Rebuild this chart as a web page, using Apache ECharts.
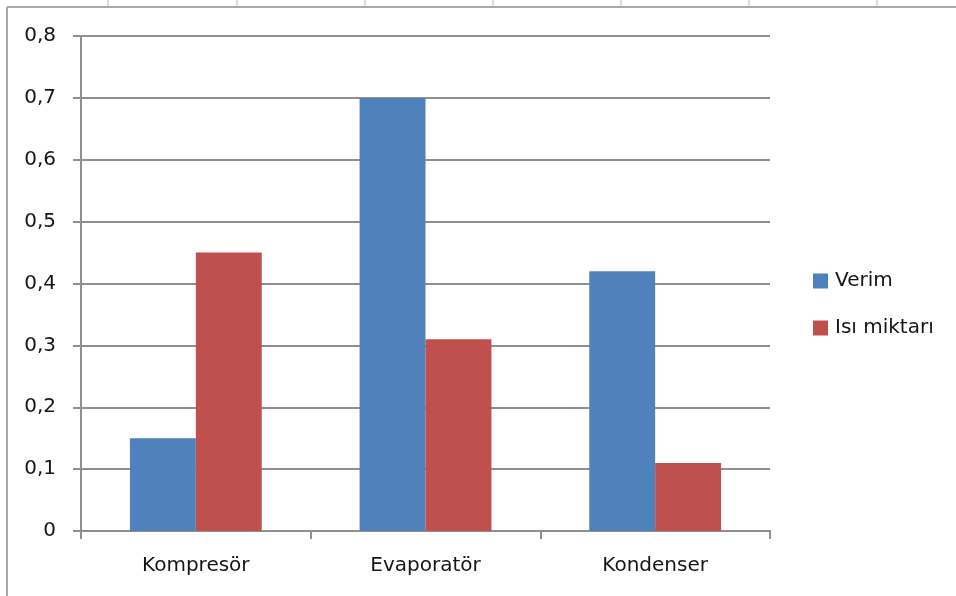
<!DOCTYPE html>
<html>
<head>
<meta charset="utf-8">
<style>
  html, body { margin: 0; padding: 0; background: #ffffff; }
  #chart { width: 956px; height: 596px; }
</style>
<script src="https://cdn.jsdelivr.net/npm/echarts@6/dist/echarts.min.js"></script>
</head>
<body>
<div id="chart"></div>
<script>
// Component names and the two measured quantities
const categories = ['Kompresör', 'Evaporatör', 'Kondenser'];
const seriesNames = ['Verim', 'Isı miktarı'];
const verim = [0.15, 0.70, 0.42];
const isiMiktari = [0.45, 0.31, 0.11];
const yTicks = { min: 0, max: 0.8, interval: 0.1 };

const FONT = 'DejaVu Sans';
const GRID_COLOR = '#8f8f8f';
const TEXT_COLOR = '#161616';

const chart = echarts.init(document.getElementById('chart'), null, { renderer: 'canvas' });

// Sheet frame around the chart area: column marks along the top edge and the outer border
const columnMarks = [108, 237, 365, 493, 621, 749, 877].map(x => ({
  type: 'line',
  shape: { x1: x, y1: 0, x2: x, y2: 6 },
  style: { stroke: '#cdd4e0', lineWidth: 1.5 },
  silent: true
}));

chart.setOption({
  backgroundColor: '#ffffff',
  animation: false,
  textStyle: { fontFamily: FONT },
  color: ['#4f81bd', '#c0504d'],
  graphic: columnMarks.concat([
    { type: 'line', shape: { x1: 7, y1: 7, x2: 960, y2: 7 }, style: { stroke: '#a9a9a9', lineWidth: 2 }, silent: true },
    { type: 'line', shape: { x1: 7, y1: 7, x2: 7, y2: 600 }, style: { stroke: '#a9a9a9', lineWidth: 2 }, silent: true }
  ]),
  grid: { left: 81, right: 186, top: 36, bottom: 65, containLabel: false },
  legend: {
    orient: 'vertical',
    left: 808,
    top: 266,
    icon: 'rect',
    itemWidth: 15,
    itemHeight: 15,
    itemGap: 27,
    data: seriesNames,
    textStyle: { fontFamily: FONT, fontSize: 20, color: TEXT_COLOR, lineHeight: 20, padding: [0, 0, 0, 2] }
  },
  xAxis: {
    type: 'category',
    data: categories,
    axisLine: { lineStyle: { color: GRID_COLOR, width: 2 } },
    axisTick: { show: true, alignWithLabel: false, length: 8, lineStyle: { color: GRID_COLOR, width: 2 } },
    axisLabel: { fontFamily: FONT, fontSize: 20, color: TEXT_COLOR, margin: 25 },
    splitLine: { show: false }
  },
  yAxis: {
    type: 'value',
    min: yTicks.min,
    max: yTicks.max,
    interval: yTicks.interval,
    axisLine: { show: true, lineStyle: { color: GRID_COLOR, width: 2 } },
    axisTick: { show: true, length: 8, lineStyle: { color: GRID_COLOR, width: 2 } },
    axisLabel: {
      fontFamily: FONT, fontSize: 20, color: TEXT_COLOR, margin: 25,
      formatter: v => (Math.round(v * 10) / 10).toString().replace('.', ',')
    },
    splitLine: { show: true, lineStyle: { color: GRID_COLOR, width: 2 } }
  },
  series: [
    { name: seriesNames[0], type: 'bar', data: verim, barGap: '0%', barCategoryGap: '42.6%' },
    { name: seriesNames[1], type: 'bar', data: isiMiktari, barGap: '0%', barCategoryGap: '42.6%' }
  ]
});
</script>
</body>
</html>
